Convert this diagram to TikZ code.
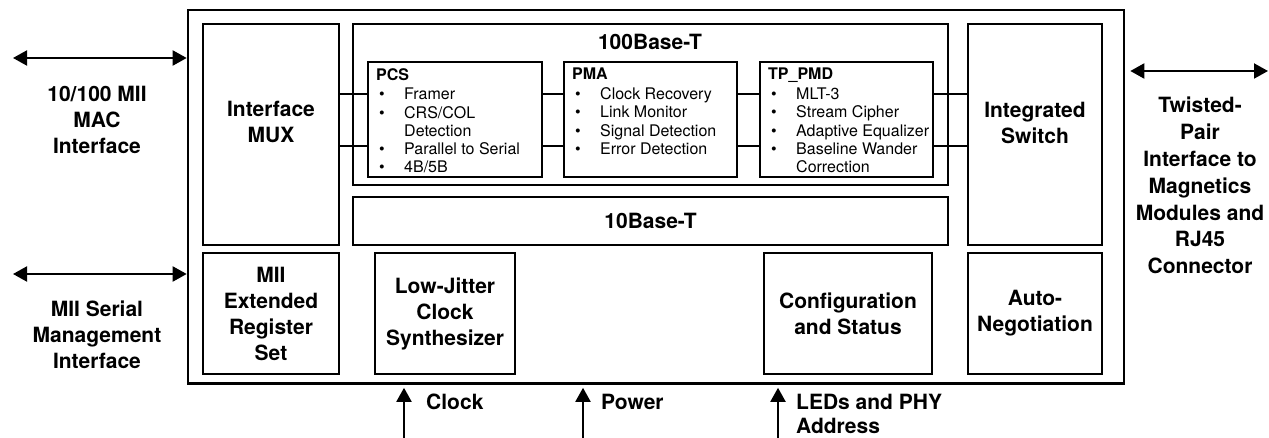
\documentclass[tikz,border=0pt]{standalone}
\usepackage{fontspec}
\setmainfont{TeX Gyre Heros}
\usetikzlibrary{arrows.meta}
\newcommand{\bigfont}{\fontsize{21}{26}\selectfont\bfseries}
\newcommand{\smallfont}{\fontsize{16}{18.2}\selectfont}
\newcommand{\itm}[1]{\hspace*{3pt}\makebox[25pt][l]{\textbullet}#1}

\begin{document}
\begin{tikzpicture}
  [x=1pt,y=-1pt,
   chip/.style={draw,line width=2.6pt,minimum width=936pt,minimum height=373.5pt,inner sep=0},
   block/.style={draw,line width=2.2pt,align=center,font=\bigfont,inner sep=0},
   subblock/.style={draw,line width=2pt,minimum width=174pt,minimum height=115pt,inner sep=0},
   items/.style={align=left,anchor=north west,inner sep=0,font=\smallfont},
   caption/.style={align=center,font=\bigfont,inner sep=0},
   link/.style={line width=1.6pt},
   bus/.style={{Triangle[length=14pt,width=15pt]}-{Triangle[length=14pt,width=15pt]},line width=2pt},
   feed/.style={-{Triangle[length=14pt,width=15pt]},line width=2pt}]
  \useasboundingbox (0,0) rectangle (1269,438);
  % chip outline and main blocks
  \node (chip) [chip] at (656,196.75) {};
  \node (mux) [block,minimum width=136pt,minimum height=221pt] at (271,134.5) {};
  \node (base100) [block,minimum width=595pt,minimum height=161pt] at (650.5,104.5) {};
  \node (base10) [block,minimum width=595pt,minimum height=48pt] at (650.5,221) {10Base-T};
  \node (switch) [block,minimum width=134pt,minimum height=221pt] at (1035,134.5) {};
  \node (miireg) [block,minimum width=136pt,minimum height=121pt] at (271,313.5) {MII\\Extended\\Register\\Set};
  \node (clksyn) [block,minimum width=140pt,minimum height=121pt] at (445,313.5) {Low-Jitter\\Clock\\Synthesizer};
  \node (config) [block,minimum width=168pt,minimum height=121pt] at (848,313.5) {Configuration\\and Status};
  \node (autoneg) [block,minimum width=134pt,minimum height=121pt] at (1035,313.5) {Auto-\\Negotiation};
  \node (muxtxt) [caption] at (271,122) {Interface\\MUX};
  \node (switchtxt) [caption] at (1035,123) {Integrated\\Switch};
  \node (base100txt) [caption] at (650,42) {100Base-T};
  % 100Base-T sublayers
  \node (pcs) [subblock] at (455,119.5) {};
  \node (pma) [subblock,minimum width=173pt] at (650.5,119.5) {};
  \node (tppmd) [subblock,minimum width=173pt] at (846.5,119.5) {};
  \node (pcstxt) [items] at ([xshift=9pt,yshift=-7pt]pcs.north west)
    {\textbf{PCS}\\[1.7pt] \itm{Framer}\\ \itm{CRS/COL}\\ \hspace*{28pt}Detection\\ \itm{Parallel to Serial}\\ \itm{4B/5B}};
  \node (pmatxt) [items] at ([xshift=9pt,yshift=-7pt]pma.north west)
    {\textbf{PMA}\\[1.7pt] \itm{Clock Recovery}\\ \itm{Link Monitor}\\ \itm{Signal Detection}\\ \itm{Error Detection}};
  \node (tppmdtxt) [items] at ([xshift=9pt,yshift=-7pt]tppmd.north west)
    {\textbf{TP\_PMD}\\[1.7pt] \itm{MLT-3}\\ \itm{Stream Cipher}\\ \itm{Adaptive Equalizer}\\ \itm{Baseline Wander}\\ \hspace*{28pt}Correction};
  \coordinate (r1) at (0,94);
  \coordinate (r2) at (0,146);
  \foreach \a/\b in {mux/pcs,pcs/pma,pma/tppmd,tppmd/switch}
     \foreach \r in {r1,r2}
       \draw [link] (\a.east |- \r) -- (\b.west |- \r);
  % outside interfaces
  \node (mactxt) [caption] at (97,120) {10/100 MII\\MAC\\Interface};
  \node (mgmttxt) [caption] at (97,334.5) {MII Serial\\Management\\Interface};
  \node (phytxt) [caption,font=\fontsize{21}{26.8}\selectfont\bfseries] at (1200,185.7)
    {Twisted-\\Pair\\Interface to\\Magnetics\\Modules and\\RJ45\\Connector};
  \node (clktxt) [caption,anchor=west] at (426,402) {Clock};
  \node (pwrtxt) [caption,anchor=west] at (601,402) {Power};
  \node (ledtxt) [caption,anchor=north west,align=left] at (796,394) {LEDs and PHY\\[-2.5pt]Address};
  \coordinate (macend) at (13,58);
  \coordinate (mgmtend) at (13,274);
  \coordinate (phyend) at (1268,71);
  \coordinate (clkin) at (404,438);
  \coordinate (pwrin) at (583,438);
  \coordinate (ledin) at (778,438);
  \draw [bus] (macend) -- (chip.west |- macend);
  \draw [bus] (mgmtend) -- (chip.west |- mgmtend);
  \draw [bus,shorten <=5pt] (chip.east |- phyend) -- (phyend);
  \foreach \p in {clkin,pwrin,ledin}
     \draw [feed,shorten >=3pt] (\p) -- (chip.south -| \p);
\end{tikzpicture}
\end{document}
